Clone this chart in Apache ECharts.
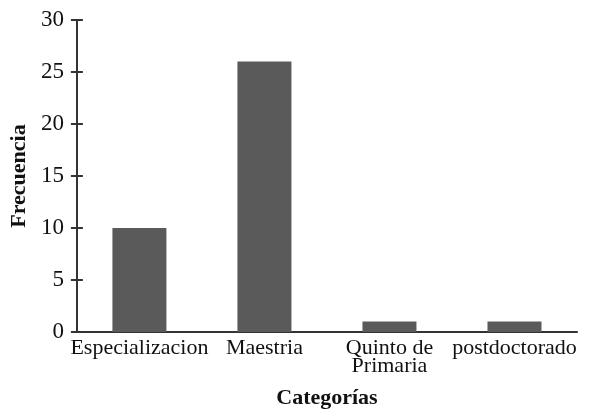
<!DOCTYPE html>
<html lang="es">
<head>
    <meta charset="UTF-8">
    <title>Frecuencia por categoría</title>
    <style>
        * { margin: 0; padding: 0; }
        html, body { width: 592px; height: 414px; background: #fff; }
        #chart { width: 592px; height: 414px; }
    </style>
</head>
<body>
    <div id="chart"></div>
    <script src="https://cdn.jsdelivr.net/npm/echarts@6/dist/echarts.min.js"></script>
    <script type="text/javascript">
        // datos
        var categorias = ['Especializacion', 'Maestria', 'Quinto de\nPrimaria', 'postdoctorado'];
        var frecuencias = [10, 26, 1, 1];

        var fuente = 'Liberation Serif, serif';
        var chart = echarts.init(document.getElementById('chart'));

        var option = {
            animation: false,
            grid: { left: 75, right: 15, top: 20, bottom: 82 },
            xAxis: {
                type: 'category',
                data: categorias,
                name: 'Categorías',
                nameLocation: 'middle',
                nameGap: 55,
                nameTextStyle: { fontFamily: fuente, fontSize: 22, fontWeight: 'bold', color: '#111' },
                axisLine: { lineStyle: { color: '#333', width: 2 } },
                axisTick: { show: false },
                axisLabel: { interval: 0, margin: 7, fontFamily: fuente, fontSize: 22, color: '#111', lineHeight: 18 }
            },
            yAxis: [
                {
                    type: 'value',
                    min: 0,
                    max: 30,
                    interval: 5,
                    name: 'Frecuencia',
                    nameLocation: 'middle',
                    nameGap: 44,
                    nameTextStyle: { fontFamily: fuente, fontSize: 22, fontWeight: 'bold', color: '#111' },
                    splitLine: { show: false },
                    axisLine: { show: true, lineStyle: { color: '#333', width: 2 } },
                    axisTick: { show: true, length: 6, lineStyle: { color: '#333', width: 2 } },
                    axisLabel: { margin: 13, fontFamily: fuente, fontSize: 23, color: '#111' }
                },
                {
                    // marcas hacia adentro para que crucen el eje
                    type: 'value',
                    position: 'left',
                    min: 0,
                    max: 30,
                    interval: 5,
                    splitLine: { show: false },
                    axisLine: { show: false },
                    axisTick: { show: true, inside: true, length: 6, lineStyle: { color: '#333', width: 2 } },
                    axisLabel: { show: false }
                }
            ],
            series: [
                {
                    type: 'bar',
                    data: frecuencias,
                    barWidth: 54,
                    itemStyle: { color: '#5a5a5a' }
                }
            ]
        };
        chart.setOption(option);
    </script>
</body>
</html>
